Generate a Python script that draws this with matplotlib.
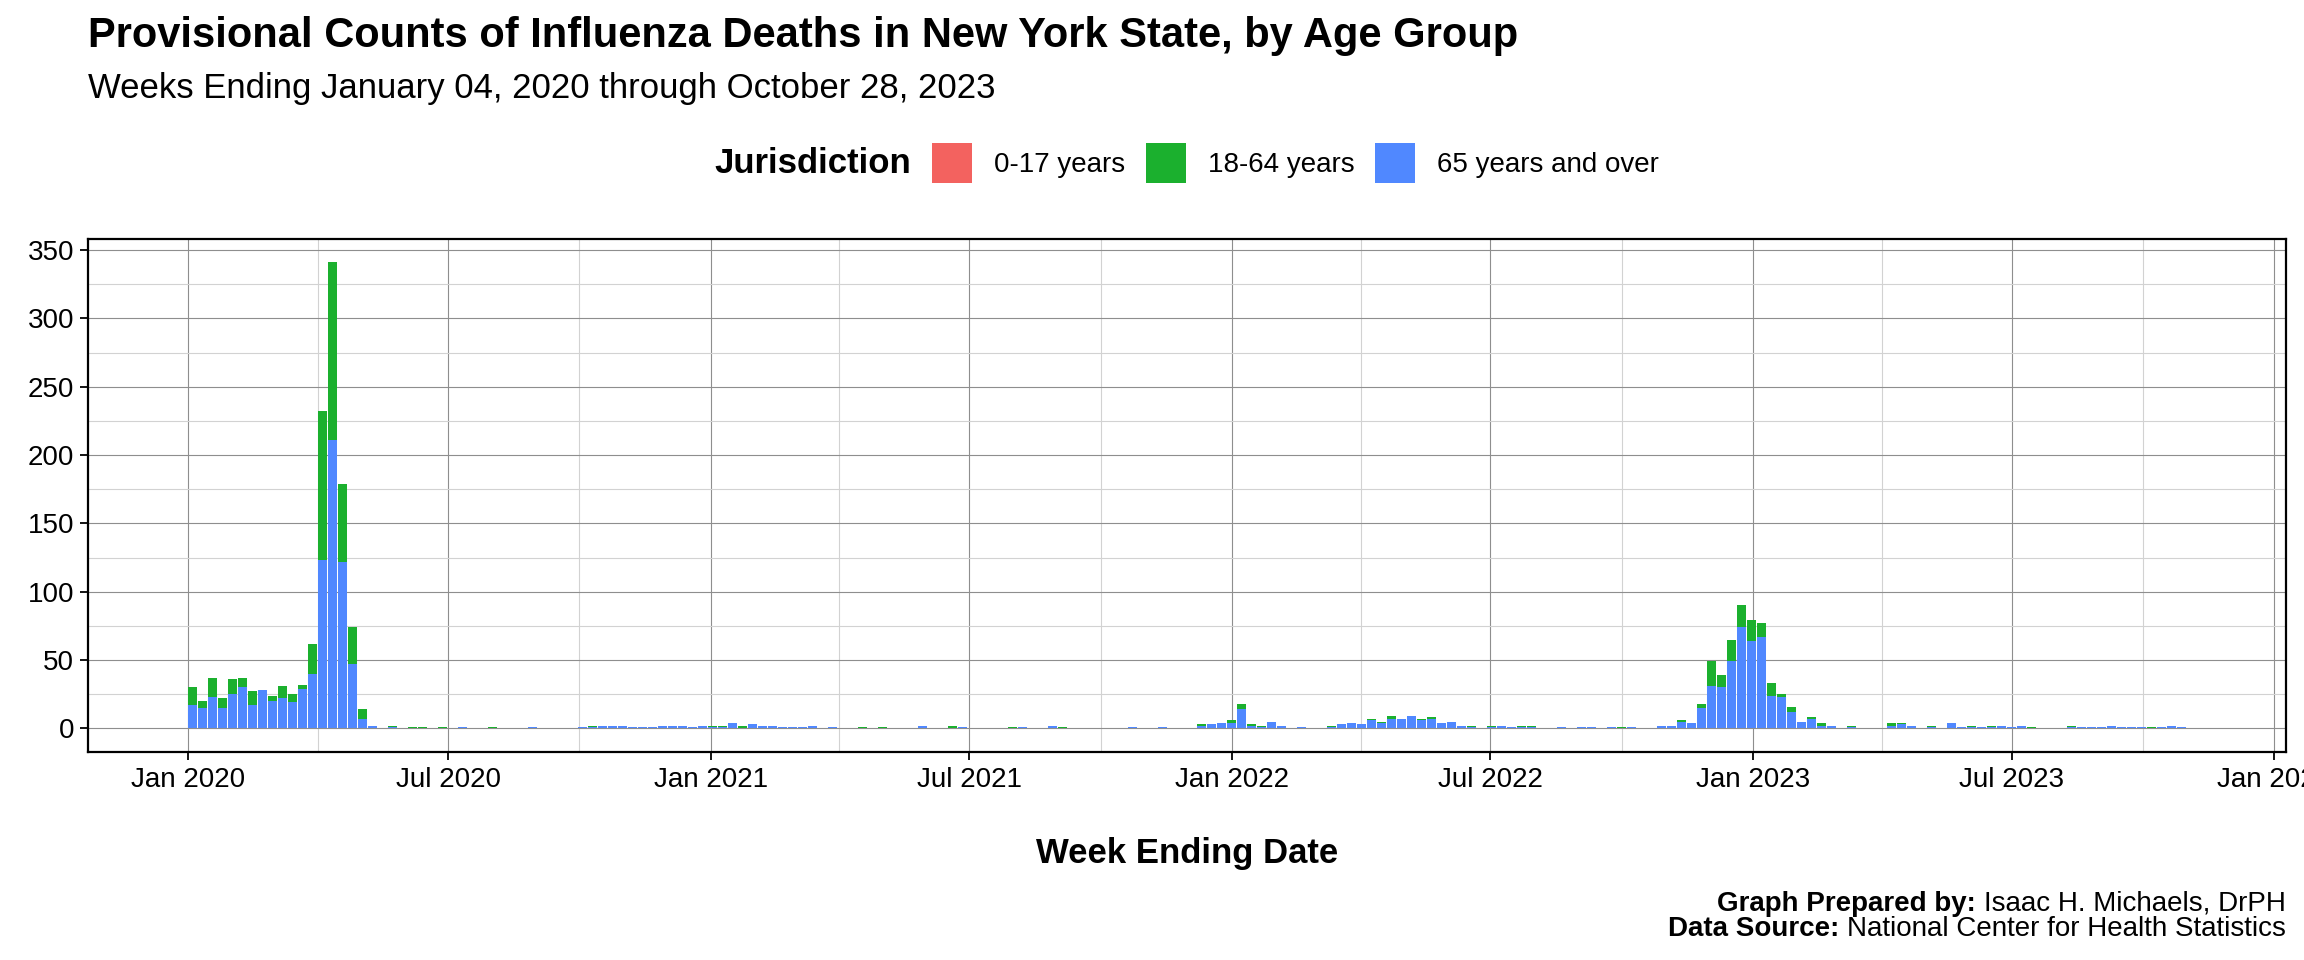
import numpy as np
import pandas as pd
import matplotlib
matplotlib.use('Agg')
import matplotlib.pyplot as plt
import matplotlib.dates as mdates
from matplotlib.ticker import MultipleLocator
from matplotlib.patches import Rectangle

plt.rcParams['font.family'] = ['Liberation Sans', 'DejaVu Sans']

# weekly data, weeks ending 2020-01-04 .. 2023-10-28
semanas = pd.date_range('2020-01-04', '2023-10-28', freq='7D')

edad_65 = [
    17, 15, 23, 15, 25, 30, 17, 28, 20, 22,
    19, 29, 40, 123, 211, 122, 47, 7, 2, 0,
    1, 0, 0, 0, 0, 0, 0, 1, 0, 0,
    0, 0, 0, 0, 1, 0, 0, 0, 0, 1,
    1, 2, 2, 2, 1, 1, 1, 2, 2, 2,
    1, 2, 1, 1, 4, 0, 3, 2, 2, 1,
    1, 1, 2, 0, 1, 0, 0, 0, 0, 0,
    0, 0, 0, 2, 0, 0, 0, 1, 0, 0,
    0, 0, 0, 1, 0, 0, 2, 0, 0, 0,
    0, 0, 0, 0, 1, 0, 0, 1, 0, 0,
    0, 2, 3, 4, 4, 14, 2, 1, 5, 2,
    0, 1, 0, 0, 1, 3, 4, 3, 6, 4,
    7, 7, 9, 6, 7, 4, 5, 2, 1, 0,
    1, 2, 1, 1, 1, 0, 0, 1, 0, 1,
    1, 0, 1, 0, 1, 0, 0, 2, 2, 5,
    4, 15, 31, 30, 49, 74, 64, 67, 24, 23,
    12, 5, 7, 2, 2, 0, 1, 0, 0, 0,
    2, 3, 2, 0, 1, 0, 4, 1, 1, 1,
    1, 2, 1, 2, 0, 0, 0, 0, 1, 1,
    1, 1, 2, 1, 1, 1, 0, 1, 2, 1,
]

edad_18_64 = [
    13, 5, 14, 7, 11, 7, 10, 0, 4, 9,
    6, 3, 22, 109, 130, 57, 27, 7, 0, 0,
    1, 0, 1, 1, 0, 1, 0, 0, 0, 0,
    1, 0, 0, 0, 0, 0, 0, 0, 0, 0,
    1, 0, 0, 0, 0, 0, 0, 0, 0, 0,
    0, 0, 1, 1, 0, 2, 0, 0, 0, 0,
    0, 0, 0, 0, 0, 0, 0, 1, 0, 1,
    0, 0, 0, 0, 0, 0, 2, 0, 0, 0,
    0, 0, 1, 0, 0, 0, 0, 1, 0, 0,
    0, 0, 0, 0, 0, 0, 0, 0, 0, 0,
    0, 1, 0, 0, 2, 4, 1, 1, 0, 0,
    0, 0, 0, 0, 1, 0, 0, 0, 1, 1,
    2, 0, 0, 1, 1, 0, 0, 0, 1, 0,
    1, 0, 0, 1, 1, 0, 0, 0, 0, 0,
    0, 0, 0, 1, 0, 0, 0, 0, 0, 1,
    0, 3, 18, 9, 16, 16, 15, 10, 9, 2,
    4, 0, 1, 2, 0, 0, 1, 0, 0, 0,
    2, 1, 0, 0, 1, 0, 0, 0, 1, 0,
    1, 0, 0, 0, 1, 0, 0, 0, 1, 0,
    0, 0, 0, 0, 0, 0, 1, 0, 0, 0,
]

# 0-17 counts are suppressed in the source, nothing shows
edad_0_17 = [0] * len(semanas)

grupos = ['0-17 years', '18-64 years', '65 years and over']
colores = {'0-17 years': '#F3625F', '18-64 years': '#1BB02E', '65 years and over': '#5088FF'}

W, H = 2304, 960
fig = plt.figure(figsize=(W / 100, H / 100), dpi=100)
fig.patch.set_facecolor('white')
ax = fig.add_axes([88 / W, 1 - 751.7 / H, (2286 - 88) / W, (751.7 - 239) / H])

ancho = 6.3
b65 = np.array(edad_65, dtype=float)
b18 = np.array(edad_18_64, dtype=float)
b0 = np.array(edad_0_17, dtype=float)

ax.bar(semanas, b65, width=ancho, color=colores['65 years and over'], linewidth=0, zorder=3)
ax.bar(semanas, b18, width=ancho, bottom=b65, color=colores['18-64 years'], linewidth=0, zorder=3)
ax.bar(semanas, b0, width=ancho, bottom=b65 + b18, color=colores['0-17 years'], linewidth=0, zorder=3)

# ggplot style 5% expansion
x0 = mdates.date2num(semanas[0]) - ancho / 2
x1 = mdates.date2num(semanas[-1]) + ancho / 2
rx = x1 - x0
ax.set_xlim(x0 - 0.05 * rx, x1 + 0.05 * rx)
ymax = (b65 + b18 + b0).max()
ax.set_ylim(-0.05 * ymax, ymax * 1.05)

ax.xaxis.set_major_locator(mdates.MonthLocator(bymonth=[1, 7]))
ax.xaxis.set_major_formatter(mdates.DateFormatter('%b %Y'))
ax.xaxis.set_minor_locator(mdates.MonthLocator(bymonth=[4, 10]))
ax.yaxis.set_major_locator(MultipleLocator(50))
ax.yaxis.set_minor_locator(MultipleLocator(25))

ax.grid(which='major', color='#8e8e8e', linewidth=0.8, zorder=0)
ax.grid(which='minor', color='#d2d2d2', linewidth=0.8, zorder=0)
ax.set_axisbelow(True)

ax.tick_params(which='major', length=6, width=1.3, color='black', labelsize=20, labelcolor='black')
ax.tick_params(axis='x', which='major', pad=5)
ax.tick_params(axis='y', which='major', pad=4)
ax.tick_params(which='minor', length=0)
for s in ax.spines.values():
    s.set_color('black')
    s.set_linewidth(1.6)
    s.set_zorder(5)

# titles
fig.text(88 / W, 1 - 46.7 / H, 'Provisional Counts of Influenza Deaths in New York State, by Age Group',
         fontsize=30, fontweight='bold', ha='left', va='baseline')
fig.text(88 / W, 1 - 98.3 / H, 'Weeks Ending January 04, 2020 through October 28, 2023',
         fontsize=25, ha='left', va='baseline')

fig.text((88 + 2286) / 2 / W, 1 - 853 / H, 'Week Ending Date', fontsize=25, fontweight='bold',
         ha='center', va='center')

# legend, laid out by hand and centred on the panel
fig.canvas.draw()
rend = fig.canvas.get_renderer()
yc = 163
k = 40
piezas = []
t = fig.text(0, 1 - 172.7 / H, 'Jurisdiction', fontsize=25, fontweight='bold', ha='left', va='baseline')
piezas.append(('t', t, t.get_window_extent(rend).width, 20))
for g in grupos:
    piezas.append(('k', g, k, 22))
    lt = fig.text(0, 1 - (yc + 8.5) / H, g, fontsize=20, ha='left', va='baseline')
    piezas.append(('t', lt, lt.get_window_extent(rend).width, 21))
total = sum(p[2] + p[3] for p in piezas) - piezas[-1][3]
x = (88 + 2286) / 2 - total / 2
for tipo, obj, w, gap in piezas:
    if tipo == 't':
        obj.set_x(x / W)
    else:
        fig.add_artist(Rectangle((x / W, 1 - (yc + k / 2) / H), k / W, k / H,
                                 transform=fig.transFigure, color=colores[obj], linewidth=0))
    x += w + gap

# caption with bold lead-ins
derecha = 2285.6
for linea, (neg, nor) in zip([911.0, 936.5], [('Graph Prepared by: ', 'Isaac H. Michaels, DrPH'),
                                                ('Data Source: ', 'National Center for Health Statistics')]):
    tn = fig.text(derecha / W, 1 - linea / H, nor, fontsize=20, ha='right', va='baseline')
    fig.canvas.draw()
    bb = tn.get_window_extent(rend)
    fig.text(bb.x0 / W, 1 - linea / H, neg, fontsize=20, fontweight='bold', ha='right', va='baseline')

fig.savefig('out.png', dpi=100)
